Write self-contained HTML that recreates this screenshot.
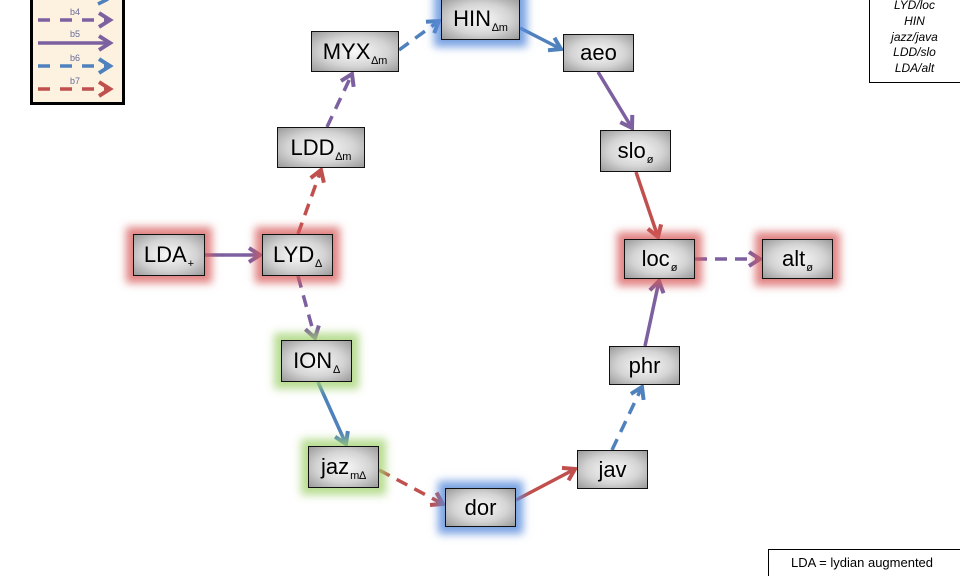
<!DOCTYPE html>
<html><head><meta charset="utf-8"><style>
html,body{margin:0;width:960px;height:576px;overflow:hidden}
body{background:#fff;font-family:"Liberation Sans","DejaVu Sans",sans-serif;position:relative}
.n{position:absolute;box-sizing:border-box;border:1.5px solid #111;background:radial-gradient(ellipse at center,#fafafa 0%,#d4d4d4 55%,#9a9a9a 100%);text-align:center;font-size:22px;color:#000}
.n span{display:inline-block;margin-top:7px;white-space:nowrap}
.n sub{font-size:11px;vertical-align:-5px;margin-left:1px}
.r{box-shadow:0 0 8px 7px rgba(215,90,90,.75)}
.g{box-shadow:0 0 8px 7px rgba(160,210,110,.75)}
.b{box-shadow:0 0 8px 7px rgba(90,140,220,.8)}
</style></head><body>
<svg width="960" height="576" style="position:absolute;left:0;top:0">
<defs>
<marker id="p" markerWidth="18" markerHeight="18" refX="14" refY="9" orient="auto" markerUnits="userSpaceOnUse" viewBox="0 0 18 18"><path d="M3,2 L14,9 L3,16" fill="none" stroke="#7d60a0" stroke-width="4"/></marker>
<marker id="bl" markerWidth="18" markerHeight="18" refX="14" refY="9" orient="auto" markerUnits="userSpaceOnUse" viewBox="0 0 18 18"><path d="M3,2 L14,9 L3,16" fill="none" stroke="#4f81bd" stroke-width="4"/></marker>
<marker id="rd" markerWidth="18" markerHeight="18" refX="14" refY="9" orient="auto" markerUnits="userSpaceOnUse" viewBox="0 0 18 18"><path d="M3,2 L14,9 L3,16" fill="none" stroke="#c0504d" stroke-width="4"/></marker>
</defs>
<g stroke-width="3.5" fill="none">
<line x1="205" y1="255" x2="260" y2="255" stroke="#7d60a0" marker-end="url(#p)"/>
<line x1="298" y1="234" x2="321" y2="170" stroke="#c0504d" stroke-dasharray="12,8" marker-end="url(#rd)"/>
<line x1="327" y1="127" x2="352" y2="74" stroke="#7d60a0" stroke-dasharray="12,8" marker-end="url(#p)"/>
<line x1="399" y1="50" x2="439" y2="21" stroke="#4f81bd" stroke-dasharray="12,8" marker-end="url(#bl)"/>
<line x1="520" y1="28" x2="561" y2="49" stroke="#4f81bd" marker-end="url(#bl)"/>
<line x1="598" y1="72" x2="632" y2="128" stroke="#7d60a0" marker-end="url(#p)"/>
<line x1="636" y1="172" x2="658" y2="237" stroke="#c0504d" marker-end="url(#rd)"/>
<line x1="695" y1="259" x2="760" y2="259" stroke="#7d60a0" stroke-dasharray="12,8" marker-end="url(#p)"/>
<line x1="645" y1="346" x2="659" y2="281" stroke="#7d60a0" marker-end="url(#p)"/>
<line x1="612" y1="450" x2="642" y2="387" stroke="#4f81bd" stroke-dasharray="12,8" marker-end="url(#bl)"/>
<line x1="516" y1="500" x2="575" y2="469" stroke="#c0504d" marker-end="url(#rd)"/>
<line x1="379" y1="470" x2="443" y2="504" stroke="#c0504d" stroke-dasharray="12,8" marker-end="url(#rd)"/>
<line x1="318" y1="382" x2="346" y2="444" stroke="#4f81bd" marker-end="url(#bl)"/>
<line x1="298" y1="276" x2="315" y2="338" stroke="#7d60a0" stroke-dasharray="12,8" marker-end="url(#p)"/>
</g>
</svg>
<div style="position:absolute;left:30px;top:-6px;width:95px;height:111px;box-sizing:border-box;border:3px solid #000;background:#fcf2df"></div>
<svg width="140" height="110" style="position:absolute;left:0;top:0">
<g font-size="9" fill="#6a6a9a" font-family="Liberation Sans">
<text x="70" y="15">b4</text><text x="70" y="37">b5</text><text x="70" y="61">b6</text><text x="70" y="84">b7</text></g>
<g stroke-width="3.5" fill="none">
<line x1="38" y1="20" x2="110" y2="20" stroke="#7d60a0" stroke-dasharray="12,10" marker-end="url(#p)"/>
<line x1="38" y1="43" x2="110" y2="43" stroke="#7d60a0" marker-end="url(#p)"/>
<line x1="38" y1="66" x2="110" y2="66" stroke="#4f81bd" stroke-dasharray="12,10" marker-end="url(#bl)"/>
<line x1="38" y1="89" x2="110" y2="89" stroke="#c0504d" stroke-dasharray="12,10" marker-end="url(#rd)"/>
<line x1="98" y1="4" x2="108" y2="-1" stroke="#4f81bd"/>
</g></svg>
<div style="position:absolute;left:869px;top:-3px;width:95px;height:86px;box-sizing:border-box;border:1px solid #000;font-style:italic;font-size:12px;text-align:center;line-height:15.8px;padding-right:4px">LYD/loc<br>HIN<br>jazz/java<br>LDD/slo<br>LDA/alt</div>
<div style="position:absolute;left:768px;top:549px;width:200px;height:40px;box-sizing:border-box;border:1px solid #000;font-size:13px;padding:5px 0 0 22px">LDA = lydian augmented</div>
<div class="n r" style="left:133px;top:234px;width:72px;height:42px"><span>LDA<sub>+</sub></span></div>
<div class="n r" style="left:262px;top:234px;width:71px;height:42px"><span>LYD<sub>∆</sub></span></div>
<div class="n" style="left:277px;top:127px;width:88px;height:41px"><span>LDD<sub>∆m</sub></span></div>
<div class="n" style="left:311px;top:31px;width:88px;height:41px"><span>MYX<sub>∆m</sub></span></div>
<div class="n b" style="left:441px;top:-2px;width:79px;height:42px"><span>HIN<sub>∆m</sub></span></div>
<div class="n" style="left:563px;top:34px;width:71px;height:38px"><span style="margin-top:5px">aeo</span></div>
<div class="n" style="left:600px;top:130px;width:71px;height:42px"><span>slo<sub>ø</sub></span></div>
<div class="n r" style="left:624px;top:239px;width:71px;height:40px"><span style="margin-top:6px">loc<sub>ø</sub></span></div>
<div class="n r" style="left:762px;top:239px;width:71px;height:40px"><span style="margin-top:6px">alt<sub>ø</sub></span></div>
<div class="n" style="left:609px;top:346px;width:71px;height:39px"><span style="margin-top:6px">phr</span></div>
<div class="n" style="left:577px;top:450px;width:71px;height:39px"><span style="margin-top:6px">jav</span></div>
<div class="n b" style="left:445px;top:488px;width:71px;height:39px"><span style="margin-top:6px">dor</span></div>
<div class="n g" style="left:308px;top:446px;width:71px;height:42px"><span>jaz<sub>m∆</sub></span></div>
<div class="n g" style="left:281px;top:340px;width:71px;height:42px"><span>ION<sub>∆</sub></span></div>
</body></html>
